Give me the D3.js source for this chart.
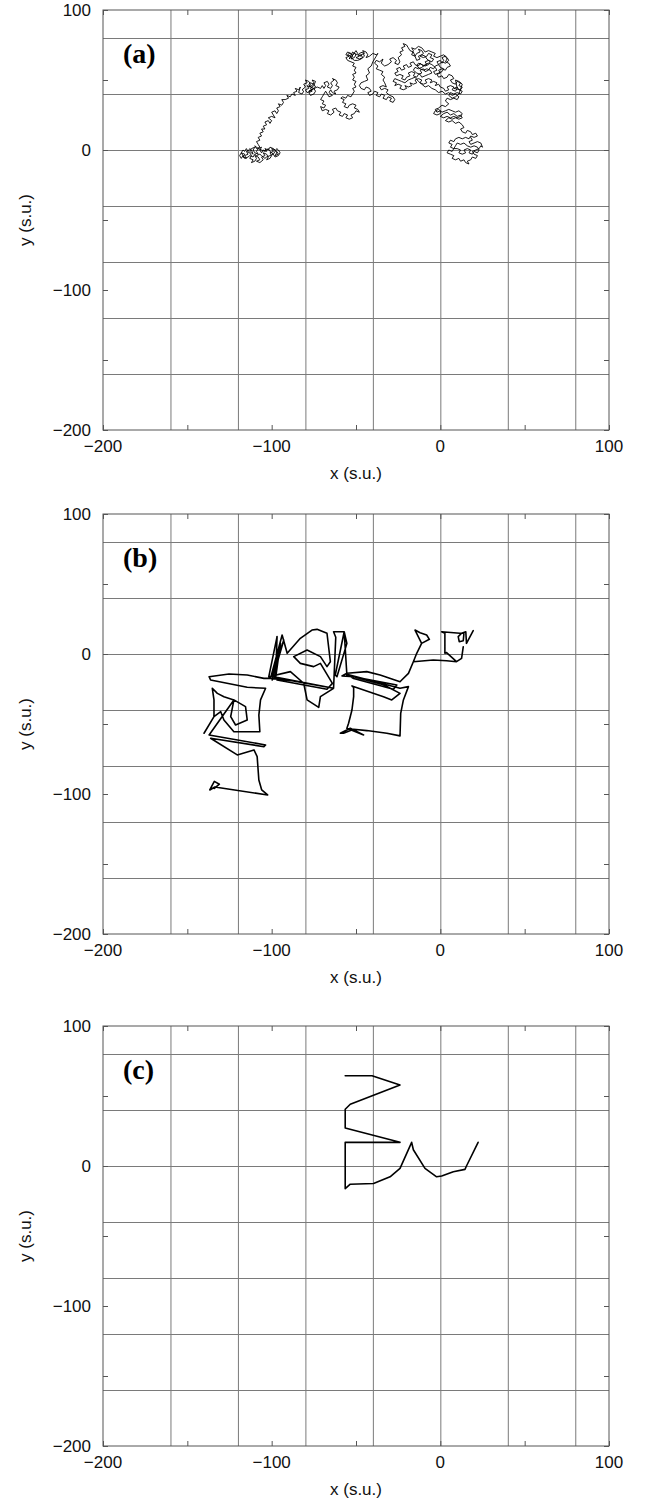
<!DOCTYPE html>
<html>
<head>
<meta charset="utf-8">
<script src="https://cdn.jsdelivr.net/npm/d3@7"></script>
<style>
  html, body { margin: 0; padding: 0; background: #fff; }
  svg { display: block; }
</style>
</head>
<body>
<svg id="chart" width="645" height="1499"></svg>
<script>
// Axis setup shared by all three panels
const xDomain = [-200, 100];
const yDomain = [-200, 100];
const majorTicks = [-200, -100, 0, 100];
const minorTicks = [-150, -50, 50];
const gridValues = [-160, -120, -80, -40, 0, 40, 80];
const panelLabels = ["(a)", "(b)", "(c)"];
const xTitle = "x (s.u.)";
const yTitle = "y (s.u.)";

// Trajectory (a): diffusive walk, traced step by step
const pathA = [
  [-117,-4],[-118,-2],[-116,-3],[-117,-5],[-115,-6],[-116,-4],[-114,-3],[-115,-1],[-113,-2],[-112,-4],
  [-113,-6],[-111,-7],[-112,-9],[-110,-8],[-109,-6],[-110,-4],[-108,-5],[-107,-7],[-109,-8],[-107,-9],
  [-105,-7],[-106,-5],[-104,-4],[-105,-2],[-103,-3],[-102,-5],[-103,-7],[-101,-6],[-100,-4],[-101,-2],
  [-99,-1],[-100,1],[-98,0],[-97,-2],[-98,-4],[-96,-3],[-97,-1],[-99,1],[-101,2],[-102,0],
  [-104,1],[-103,-1],[-105,0],[-106,-2],[-107,0],[-106,2],[-108,1],[-109,-1],[-108,-3],[-110,-2],
  [-111,0],[-110,2],[-112,1],[-113,-1],[-111,-3],[-112,0],
  [-113,1],[-114,-1],[-115,1],[-116,-1],[-117,0],[-118,-2],[-119,-4],[-118,-6],[-117,-4],[-116,-6],
  [-114,-5],[-113,-4],[-111,-5],[-110,-3],[-109,-4],[-107,-3],[-106,-4],[-104,-6],[-103,-5],[-101,-4],
  [-99,-3],[-98,-1],[-97,1],[-96,0],[-95,-2],[-96,-4],[-98,-5],[-99,-3],[-101,-1],[-102,1],
  [-104,-1],[-106,0],[-108,1],
  [-110,3],[-109,1],[-107,2],[-108,4],
  [-109,6],[-107,7],[-108,9],[-106,10],[-107,12],[-105,13],[-106,15],[-104,15],[-105,17],[-103,18],
  [-104,20],[-102,21],[-101,19],[-100,21],[-102,23],[-100,24],[-98,23],[-99,25],[-100,27],[-98,28],
  [-97,26],[-96,28],[-97,30],[-95,31],[-96,33],[-94,32],[-93,34],[-94,36],[-92,36],[-90,37],
  [-91,39],[-89,38],[-88,40],[-86,39],[-87,41],[-85,42],[-86,44],[-84,43],[-83,45],[-84,41],
  [-82,40],[-81,42],[-82,43],[-80,45],[-81,47],[-79,48],[-80,50],[-78,49],[-77,47],[-78,45],
  [-76,46],[-75,48],[-76,50],[-74,49],[-75,46],[-77,44],[-76,42],[-78,41],[-77,39],[-75,40],
  [-74,42],[-75,44],
  [-79,46],[-78,44],[-80,43],[-79,41],[-77,42],[-76,44],[-78,47],[-77,48],[-75,47],[-74,45],
  [-76,43],[-78,42],
  [-73,45],[-71,44],[-70,46],[-69,44],[-68,46],[-69,48],[-67,49],[-66,47],
  [-67,45],[-65,44],[-64,46],[-65,48],[-63,50],[-64,51],[-62,50],[-61,48],[-62,46],[-60,45],
  [-61,43],[-63,42],[-62,40],[-64,41],[-65,43],[-66,41],[-64,39],[-66,38],[-67,40],[-68,42],
  [-69,40],[-70,38],[-71,36],[-69,35],[-70,33],[-68,32],[-69,30],[-71,31],[-70,28],[-68,29],
  [-66,28],[-67,26],[-65,25],[-63,27],[-64,29],[-62,30],[-61,28],[-59,27],[-60,25],[-58,24],
  [-57,26],[-55,25],[-56,23],[-54,22],[-52,23],[-53,25],[-51,26],[-50,28],[-48,27],[-49,29],
  [-51,30],[-50,32],[-52,33],[-54,32],[-55,30],[-57,31],[-56,33],[-58,34],[-57,36],[-59,37],
  [-58,38],[-56,37],[-55,39],[-53,38],[-52,40],[-51,42],[-52,44],[-50,45],[-51,47],[-50,49],
  [-52,50],[-51,52],[-52,54],[-50,55],[-51,57],[-50,59],[-52,60],[-51,62],[-53,63],[-55,64],
  [-56,66],[-54,67],[-56,68],[-55,70],[-53,69],[-52,67],[-53,65],[-51,66],[-50,68],[-52,70],
  [-54,65],[-53,67],[-55,68],[-54,69],[-52,68],[-51,69],[-49,68],[-47,67],[-48,69],[-46,70],
  [-45,67],[-47,65],[-49,64],[-51,64],[-53,66],
  [-50,71],[-49,69],[-48,67],[-50,66],[-48,65],[-46,66],[-47,68],[-45,69],[-46,71],[-44,70],
  [-43,68],[-44,66],[-42,67],[-40,69],[-38,68],[-37,69],[-38,67],[-39,65],[-40,63],[-41,60],
  [-43,58],[-42,55],[-44,53],[-43,50],[-45,49],[-47,48],[-48,46],[-47,44],[-45,43],[-44,45],
  [-42,44],[-41,42],[-43,41],[-42,39],[-40,40],[-39,42],[-37,41],[-38,39],[-36,38],[-35,40],
  [-33,39],[-34,37],[-32,36],[-31,38],[-29,37],[-30,35],[-28,34],[-27,36],[-28,38],[-30,39],
  [-32,41],[-31,43],[-33,44],[-35,43],[-36,45],[-34,46],[-32,45],[-33,48],[-34,50],[-33,52],
  [-35,54],[-34,56],[-36,57],[-38,58],[-37,60],[-39,62],[-38,64],[-36,63],[-34,65],[-35,62],
  [-33,60],[-31,61],[-29,63],[-30,65],[-28,66],[-26,64],[-27,62],[-25,61],[-24,63],[-25,66],
  [-23,68],[-24,70],[-22,71],[-23,73],[-21,74],[-22,76],[-20,75],[-19,73],[-18,71],[-16,70],
  [-14,64],[-12,65],[-13,67],[-11,68],[-9,67],[-8,65],[-6,63],[-7,61],[-9,60],[-11,61],
  [-13,62],[-14,60],[-12,58],[-10,57],[-8,58],[-6,57],[-5,55],[-7,54],[-9,53],[-11,52],
  [-12,54],[-14,55],[-16,57],[-15,59],[-13,58],[-11,59],[-9,61],[-7,62],[-5,61],[-3,59],
  [-2,57],[-4,56],[-3,54],[-1,55],[1,56],[2,58],[0,59],[-1,61],[1,63],[3,62],
  [5,64],[4,66],[2,68],[0,67],[-2,66],[-4,67],[-3,69],[-5,70],[-7,71],[-9,70],
  [-11,73],[-13,74],[-15,72],[-17,73],[-16,71],
  [-17,68],[-15,67],[-14,69],[-12,70],[-13,72],[-11,71],[-10,69],[-12,67],[-10,66],[-8,67],
  [-7,69],[-5,68],[-6,66],[-4,65],[-5,63],[-7,64],[-9,63],[-8,61],[-10,60],[-12,62],
  [-13,60],[-15,61],[-16,63],[-18,62],[-17,60],[-19,59],[-20,61],[-22,60],[-21,58],[-23,57],
  [-24,59],[-26,58],[-25,56],[-27,55],[-26,53],[-24,54],[-22,53],[-23,51],[-21,50],[-20,52],
  [-18,53],[-19,55],[-17,56],[-15,55],[-16,53],[-14,52],[-13,54],[-11,55],[-12,57],[-10,58],
  [-9,56],[-7,57],[-6,59],[-4,58],[-3,60],[-1,61],[-2,63],[0,64],[1,62],[2,64],
  [1,66],[3,67],[4,65],[3,63],[5,62],[6,60],[4,59],[3,57],[1,58],[-1,57],
  [0,55],[-2,54],[-1,52],[1,53],[2,51],[4,52],[5,54],[7,53],[8,51],[6,50],
  [7,48],[9,47],[10,49],[12,48],[11,46],[13,45],[12,43],
  [8,44],[10,45],[11,43],[13,42],[12,40],[10,41],[8,40],[6,41],[5,39],[7,37],
  [9,38],[11,40],[13,47],[11,49],[9,50],
  [10,44],[9,42],[7,43],
  [8,45],[6,46],[4,45],[5,43],[3,42],[2,44],[0,45],[-1,47],[-3,46],[-2,48],
  [-4,49],[-6,48],[-5,50],[-7,51],[-9,50],[-8,48],[-10,47],[-12,48],[-11,50],[-13,51],
  [-15,50],[-14,48],[-16,47],[-18,48],[-17,46],[-19,45],[-21,46],[-20,44],[-22,43],[-24,44],
  [-23,46],[-25,47],[-27,46],[-26,48],[-28,49],[-27,51],[-25,50],[-23,49],[-21,48],[-19,50],
  [-17,51],[-15,52],[-13,49],[-11,47],[-9,45],[-7,46],[-5,44],[-3,43],[-1,41],[1,42],
  [3,40],[5,41],[7,39],[9,40],[11,38],[10,36],[8,37],[6,36],[4,37],[3,35],
  [5,33],[3,31],[1,32],[-1,30],[-3,29],[-2,27],[0,28],
  [0,26],[-2,25],[-4,26],[-3,28],[-1,29],[1,27],[3,28],[5,29],[7,28],[9,27],
  [11,28],[13,26],[12,24],[10,23],[8,24],[6,23],[4,24],[2,23],[0,24],
  [2,26],[4,27],[6,25],
  [8,26],[10,24],[12,25],[13,23],[11,22],[9,23],[7,22],[5,23],[3,21],[5,20],
  [7,21],[9,19],[11,20],[13,18],[14,16],[12,15],[13,13],[15,12],[16,14],[18,13],
  [19,11],[21,12],[22,10],[20,9],[18,10],[17,8],[15,9],[13,8],[11,9],[9,8],
  [8,6],[6,7],[5,5],[7,4],[6,2],[8,1],
  [10,1],[12,0],[11,-2],[13,-3],[15,-2],[14,0],[16,1],[18,0],[17,-2],[19,-3],
  [20,-1],[22,-2],[23,0],[22,2],[20,3],[18,2],[16,3],[14,5],[12,4],[10,5],[9,3],
  [7,-1],[5,0],[4,-2],[6,-3],
  [8,-4],[7,-6],[9,-7],[11,-6],[12,-8],[14,-7],[15,-9],[17,-10],[16,-8],[18,-7],
  [19,-5],[21,-6],[22,-4],[20,-3],[19,-1],[21,0],[23,1],[24,3],[25,2],[24,5],
  [22,6],[20,5],[18,4],[17,6],[19,7],[18,9]
];

// Trajectory (b)
const pathB = [
  [19.5,16.7],[15.5,7.6],[15.1,15.9],[12.6,14.8],[10.6,12.4],[11.2,8.8],[13.6,9.5],[14,14.8],
  [11.6,14.8],[0.8,15.9],[2.7,14.8],[2.7,0.5],[3.7,1],[9.6,-5.5],[12.6,-3.1],[13.6,5.2],
  [12.6,-3.1],[9.6,-5.5],[3.7,-4.8],[-4.2,-4.3],[-16,-5.5],[-14,0.5],[-11.1,7.6],[-6.5,10.5],
  [-8.1,13.6],[-12,15.2],[-15,17.1],[-11.1,7.6],[-14,0.5],[-16,-5.5],[-18.9,-13.8],[-22.9,-18.6],
  [-23.9,-19.8],[-35.7,-15],[-43.6,-12.6],[-55.4,-13.8],[-58.3,-15.7],[-51.4,-16.2],[-25.8,-22.1],[-27.8,-25.2],
  [-51.4,-17.5],[-55.4,-14.5],[-23.9,-24.5],[-18.9,-23.3],[-21.9,-32.8],[-23.5,-42.4],[-23.9,-58.5],[-31.7,-56.6],
  [-43.6,-54.7],[-51.4,-53.8],[-57.4,-56.6],[-59.3,-56.6],[-53.4,-53.1],[-45.5,-57.8],[-55.4,-53.1],[-54.4,-49.5],
  [-52.4,-40],[-51.4,-30.5],[-51.4,-23.8],[-52.4,-22.8],[-33.7,-30.5],[-28.8,-32.8],[-23.9,-28.1],[-33.7,-22],
  [-55.4,-15],[-57,15.9],[-62.3,-15],[-61.3,-16.2],[-55.4,7.6],[-57,15.9],[-63.3,15.9],[-62,12],
  [-63.3,-24.5],[-98.7,-16.2],[-96.8,-18.6],[-67.2,-25.2],[-64,-21],[-71.1,-6.7],[-75.1,-9],[-83,-6.7],
  [-86.9,-1.9],[-79,2.9],[-71.1,-1.9],[-67.2,-9],[-65.2,-5.5],[-67.2,14.8],[-73.1,17.6],[-76.1,17.1],
  [-83,11.2],[-90.8,0.5],[-93.8,13.6],[-100.7,-17.4],[-92.8,10],[-99.7,-18.6],[-94.8,7.6],[-97.7,-17.4],
  [-96.8,12.4],[-101.7,-16.2],[-88.9,-12.6],[-81,-20.9],[-79,-32.8],[-72.1,-38.1],[-71.1,-30.5],[-63.3,-24.5],
  [-88,-19],[-100.7,-17.4],[-104.6,-17.4],[-114.5,-15],[-125.3,-14.3],[-137.1,-16.2],[-136.2,-18.6],[-114.5,-23.8],
  [-103.6,-24.5],[-106.6,-32.8],[-107.6,-43.6],[-107,-55.5],[-122.4,-55.5],[-128.3,-47.1],[-130.2,-41.2],[-134.2,-44.7],
  [-140.1,-56.6],[-134.2,-44.7],[-134.2,-32.8],[-135.2,-24.5],[-132.2,-28.1],[-128.3,-30.5],[-122.4,-32.8],[-124.3,-44.7],
  [-121.4,-50.7],[-114.5,-47.1],[-115.5,-37.6],[-122.4,-32.8],[-137.1,-57.8],[-103.6,-65],[-104.6,-66.2],[-136.2,-60.2],
  [-120.4,-72.1],[-110.5,-68.5],[-108.6,-73.3],[-107.6,-90],[-105.9,-97.1],[-102.4,-100.7],[-133.7,-95],[-136.7,-97.1],
  [-134,-91],[-131,-93],[-134,-96]
];

// Trajectory (c)
const pathC = [
  [-56.4,64.5],[-40.5,64.5],[-23.9,57.8],[-53.4,44.1],[-56.4,40.5],[-56.4,27.2],
  [-23.9,16.9],[-56.4,16.9],[-56.4,-16.2],[-53.4,-13],[-39.6,-12.5],[-29.8,-7.7],[-23.9,-1.7],[-17,16.9],
  [-16,11.6],[-9.1,-1.7],[-2.2,-7.7],[0.8,-7.2],[7.7,-4.1],[14.6,-2.4],[15.5,0],[22.4,16.9]
];

const paths = [pathA, pathB, pathC];
const strokeWidths = [0.9, 1.6, 1.6];

const left = 103, right = 609;
const panelTops = [10, 514, 1026];
const panelH = 420;

const svg = d3.select("#chart");
const x = d3.scaleLinear().domain(xDomain).range([left, right]);

panelTops.forEach((top, i) => {
  const y = d3.scaleLinear().domain(yDomain).range([top + panelH, top]);
  const g = svg.append("g");

  // grid
  g.append("g")
    .attr("transform", `translate(0,${top + panelH})`)
    .call(d3.axisBottom(x).tickValues(gridValues).tickSize(-panelH).tickFormat(""))
    .call(s => s.select(".domain").remove())
    .call(s => s.selectAll("line").attr("stroke", "#7a7a7a").attr("stroke-width", 1));
  g.append("g")
    .attr("transform", `translate(${left},0)`)
    .call(d3.axisLeft(y).tickValues(gridValues).tickSize(-(right - left)).tickFormat(""))
    .call(s => s.select(".domain").remove())
    .call(s => s.selectAll("line").attr("stroke", "#7a7a7a").attr("stroke-width", 1));

  // trajectory
  const line = d3.line().x(d => x(d[0])).y(d => y(d[1]));
  g.append("path")
    .datum(paths[i])
    .attr("fill", "none")
    .attr("stroke", "#000")
    .attr("stroke-width", strokeWidths[i])
    .attr("stroke-linejoin", "round")
    .attr("stroke-linecap", "round")
    .attr("d", line);

  // frame
  g.append("rect")
    .attr("x", left).attr("y", top)
    .attr("width", right - left).attr("height", panelH)
    .attr("fill", "none").attr("stroke", "#555").attr("stroke-width", 1);

  // inward ticks on all four sides
  const tickStyle = s => {
    s.select(".domain").remove();
    s.selectAll("line").attr("stroke", "#555");
    s.selectAll("text").remove();
  };
  const allTicks = majorTicks.concat(minorTicks);
  [[d3.axisBottom, top + panelH], [d3.axisTop, top]].forEach(([ax, ty]) => {
    g.append("g").attr("transform", `translate(0,${ty})`)
      .call(ax(x).tickValues(allTicks).tickSize(-5)).call(tickStyle);
  });
  [[d3.axisLeft, left], [d3.axisRight, right]].forEach(([ax, tx]) => {
    g.append("g").attr("transform", `translate(${tx},0)`)
      .call(ax(y).tickValues(allTicks).tickSize(-5)).call(tickStyle);
  });

  // tick labels
  const fmt = v => (v < 0 ? "\u2212" : "") + Math.abs(v);
  g.selectAll(".xl").data(majorTicks).enter().append("text")
    .attr("x", d => x(d)).attr("y", top + panelH + 22)
    .attr("text-anchor", "middle")
    .attr("font-family", "Liberation Sans, Arial, sans-serif")
    .attr("font-size", 17).attr("fill", "#111")
    .text(fmt);
  g.selectAll(".yl").data(majorTicks).enter().append("text")
    .attr("x", 91).attr("y", d => y(d) + 6)
    .attr("text-anchor", "end")
    .attr("font-family", "Liberation Sans, Arial, sans-serif")
    .attr("font-size", 17).attr("fill", "#111")
    .text(fmt);

  // axis titles
  g.append("text")
    .attr("x", (left + right) / 2).attr("y", top + panelH + 49)
    .attr("text-anchor", "middle")
    .attr("font-family", "Liberation Sans, Arial, sans-serif")
    .attr("font-size", 17).attr("fill", "#111")
    .text(xTitle);
  g.append("text")
    .attr("transform", `translate(31,${top + panelH / 2}) rotate(-90)`)
    .attr("text-anchor", "middle")
    .attr("font-family", "Liberation Sans, Arial, sans-serif")
    .attr("font-size", 17).attr("fill", "#111")
    .text(yTitle);

  // panel label
  g.append("text")
    .attr("x", 123).attr("y", top + 53)
    .attr("font-family", "Liberation Serif, Times New Roman, serif")
    .attr("font-weight", "bold")
    .attr("font-size", 28).attr("fill", "#000")
    .text(panelLabels[i]);
});
</script>
</body>
</html>
